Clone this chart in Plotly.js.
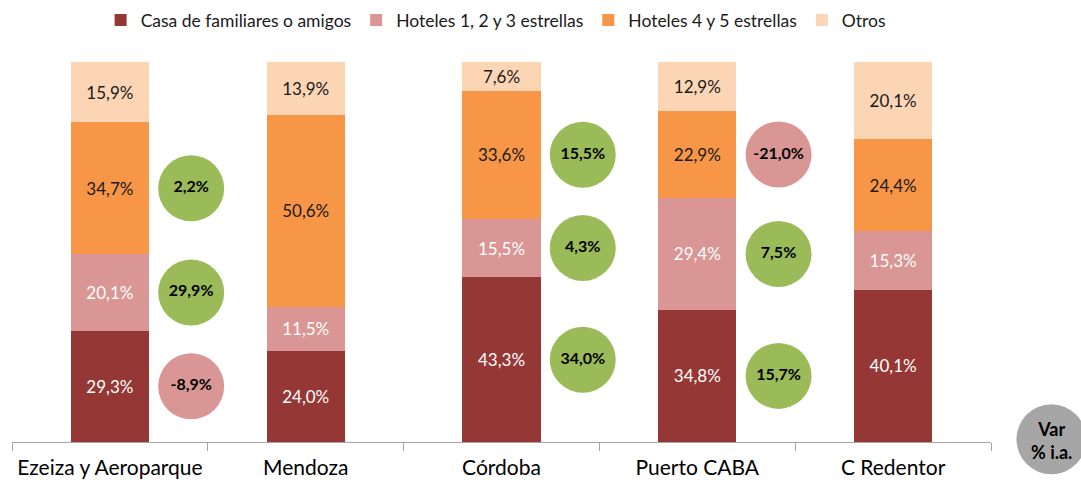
<!DOCTYPE html>
<html>
<head>
<meta charset="utf-8">
<script src="https://cdn.plot.ly/plotly-3.0.1.min.js"></script>
<style>
  html, body { margin: 0; padding: 0; background: #fff; }
  #chart { width: 1081px; height: 482px; }
</style>
</head>
<body>
<div id="chart"></div>
<script>
// ---- Data ----
const categories = ["Ezeiza y Aeroparque", "Mendoza", "Córdoba", "Puerto CABA", "C Redentor"];
const seriesNames = ["Casa de familiares o amigos", "Hoteles 1, 2 y 3 estrellas", "Hoteles 4 y 5 estrellas", "Otros"];
const casa   = [29.3, 24.0, 43.3, 34.8, 40.1];
const hot123 = [20.1, 11.5, 15.5, 29.4, 15.3];
const hot45  = [34.7, 50.6, 33.6, 22.9, 24.4];
const otros  = [15.9, 13.9, 7.6, 12.9, 20.1];
// Variación % interanual (circles), null = no circle
const varCasa   = [-8.9, null, 34.0, 15.7, null];
const varHot123 = [29.9, null, 4.3, 7.5, null];
const varHot45  = [2.2, null, 15.5, -21.0, null];

// ---- Styles ----
const colors = ["#953735", "#D99694", "#F79646", "#FCD5B5"];
const textColors = ["#FFFFFF", "#FFFFFF", "#1A1A1A", "#1A1A1A"];
const posColor = "#9BBB59", negColor = "#D99694";
const FONT = "Lato, 'Open Sans', sans-serif";
const circleOffset = 0.415;

function fmt(v) { return v.toFixed(1).replace('.', ',') + '%'; }

const series = [casa, hot123, hot45, otros];
const traces = series.map((vals, i) => ({
  type: 'bar',
  name: seriesNames[i],
  x: categories,
  y: vals,
  marker: { color: colors[i], line: { width: 0 } },
  text: vals.map(fmt),
  textposition: 'inside',
  insidetextanchor: 'middle',
  textangle: 0,
  constraintext: 'none',
  textfont: { family: FONT, size: 17, color: textColors[i] },
  width: 0.40,
  hoverinfo: 'skip'
}));

// circles at middle of each segment
const varSeries = [varCasa, varHot123, varHot45];
const cx = [], cy = [], ct = [], cc = [];
varSeries.forEach((vs, s) => {
  vs.forEach((v, k) => {
    if (v === null) return;
    let base = 0;
    for (let j = 0; j < s; j++) base += series[j][k];
    cx.push(k + circleOffset);
    cy.push(base + series[s][k] / 2);
    ct.push('<b>' + fmt(v) + '</b>');
    cc.push(v >= 0 ? posColor : negColor);
  });
});
traces.push({
  type: 'scatter',
  mode: 'markers+text',
  x: cx, y: cy,
  xaxis: 'x2', yaxis: 'y',
  text: ct,
  textposition: 'middle center',
  textfont: { family: FONT, size: 16, color: '#000' },
  marker: { size: 66, color: cc, line: { width: 0 } },
  showlegend: false,
  hoverinfo: 'skip',
  cliponaxis: false
});

const layout = {
  width: 1081, height: 482,
  margin: { l: 11.5, r: 89.5, t: 61.7, b: 40.3, autoexpand: false },
  paper_bgcolor: '#fff', plot_bgcolor: '#fff',
  barmode: 'stack',
  font: { family: FONT, color: '#000' },
  showlegend: true,
  legend: {
    orientation: 'h', traceorder: 'normal',
    x: 0.494, xanchor: 'center',
    yref: 'container', y: 0.958, yanchor: 'middle',
    font: { family: FONT, size: 17.5, color: '#1A1A1A' },
    itemwidth: 30
  },
  xaxis: {
    type: 'category',
    categoryorder: 'array', categoryarray: categories,
    range: [-0.5, 4.5],
    tickson: 'boundaries',
    ticks: 'outside', ticklen: 8, tickcolor: '#A6A6A6', tickwidth: 1,
    ticklabelstandoff: 7,
    showline: true, linecolor: '#A6A6A6', linewidth: 1,
    showgrid: false, zeroline: false,
    tickfont: { family: FONT, size: 21, color: '#000' },
    fixedrange: true
  },
  xaxis2: {
    overlaying: 'x', range: [-0.5, 4.5], visible: false, fixedrange: true
  },
  yaxis: {
    range: [0, 100], visible: false, showgrid: false, zeroline: false, fixedrange: true
  },
  shapes: [{
    type: 'circle', xref: 'paper', yref: 'paper',
    x0: 1.026, x1: 1.0974, y0: -0.085, y1: 0.0992,
    fillcolor: '#A6A6A6', line: { width: 0 }, layer: 'above'
  }],
  annotations: [{
    xref: 'paper', yref: 'paper', x: 1.062, y: 0.004,
    xanchor: 'center', yanchor: 'middle', showarrow: false,
    text: '<b>Var</b><br><b>% i.a.</b>',
    font: { family: FONT, size: 18, color: '#000' }
  }]
};

Plotly.newPlot('chart', traces, layout, { displayModeBar: false, staticPlot: true });
</script>
</body>
</html>
